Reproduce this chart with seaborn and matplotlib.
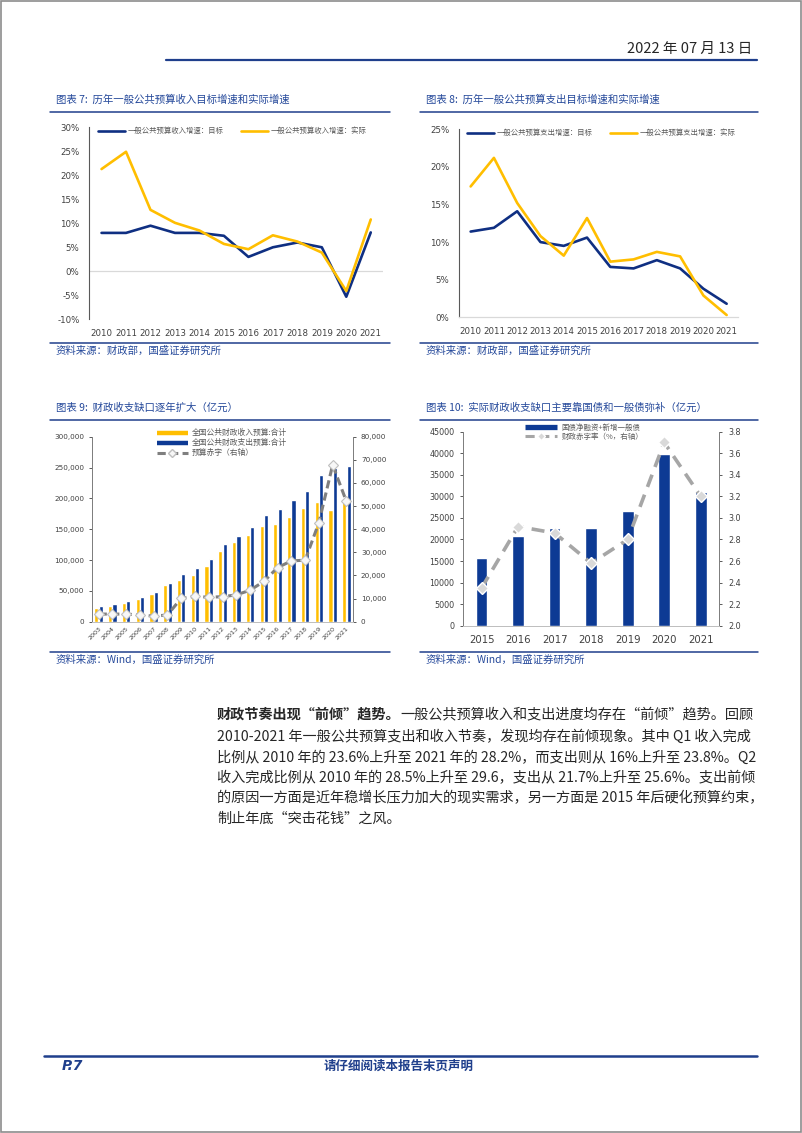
import numpy as np
import pandas as pd
import seaborn as sns
import matplotlib
matplotlib.use('Agg')
import matplotlib.pyplot as plt
from matplotlib.lines import Line2D
from matplotlib.patches import Rectangle
from matplotlib.ticker import FuncFormatter, MultipleLocator

# ---------------- data ----------------
growth_years = ['2010', '2011', '2012', '2013', '2014', '2015',
                '2016', '2017', '2018', '2019', '2020', '2021']
rev_target = [8.0, 8.0, 9.5, 8.0, 8.0, 7.4, 3.0, 5.0, 6.0, 5.0, -5.3, 8.1]
rev_actual = [21.3, 24.9, 12.8, 10.1, 8.5, 5.7, 4.6, 7.5, 6.2, 3.9, -4.1, 10.8]
exp_target = [11.4, 11.9, 14.1, 10.0, 9.5, 10.6, 6.7, 6.5, 7.6, 6.5, 3.8, 1.8]
exp_actual = [17.4, 21.2, 15.2, 10.8, 8.2, 13.2, 7.4, 7.7, 8.7, 8.1, 2.9, 0.3]

budget_years = ['2003', '2004', '2005', '2006', '2007', '2008', '2009', '2010',
                '2011', '2012', '2013', '2014', '2015', '2016', '2017', '2018',
                '2019', '2020', '2021']
rev_budget = [22700, 25400, 30800, 36800, 44900, 59500, 67600, 75100, 90300,
              114600, 128600, 140500, 155700, 159000, 169700, 184900, 194600,
              181000, 196000]
exp_budget = [25400, 28600, 34000, 40000, 47600, 62700, 77300, 86500, 101600,
              126500, 139500, 154000, 173000, 182700, 196800, 211400, 237300,
              249700, 252000]
budget_deficit = [3300, 3300, 3300, 2900, 2400, 2900, 10100, 10900, 10600,
                  10800, 11600, 13600, 17400, 23400, 26300, 26600, 42800,
                  67800, 52000]

debt_years = ['2015', '2016', '2017', '2018', '2019', '2020', '2021']
debt_financing = [15600, 20700, 22700, 22600, 26500, 39800, 31100]
deficit_rate = [2.35, 2.92, 2.86, 2.58, 2.80, 3.70, 3.20]

rev_labels = ['一般公共预算收入增速：目标', '一般公共预算收入增速：实际']
exp_labels = ['一般公共预算支出增速：目标', '一般公共预算支出增速：实际']
budget_labels = ['全国公共财政收入预算:合计', '全国公共财政支出预算:合计', '预算赤字（右轴）']
debt_labels = ['国债净融资+新增一般债', '财政赤字率（%，右轴）']

para_bold = '财政节奏出现“前倾”趋势。'
para_lines = [
    '一般公共预算收入和支出进度均存在“前倾”趋势。回顾',
    '2010-2021 年一般公共预算支出和收入节奏，发现均存在前倾现象。其中 Q1 收入完成',
    '比例从 2010 年的 23.6%上升至 2021 年的 28.2%，而支出则从 16%上升至 23.8%。Q2',
    '收入完成比例从 2010 年的 28.5%上升至 29.6，支出从 21.7%上升至 25.6%。支出前倾',
    '的原因一方面是近年稳增长压力加大的现实需求，另一方面是 2015 年后硬化预算约束，',
    '制止年底“突击花钱”之风。',
]

# ---------------- style ----------------
sns.set_style('white')
CJK = ['Noto Sans CJK SC', 'DejaVu Sans']
plt.rcParams['font.family'] = ['DejaVu Sans', 'Noto Sans CJK SC']
plt.rcParams['axes.unicode_minus'] = False

NAVY = '#0d3a94'
LINE_BLUE = '#0f2f82'
GOLD = '#ffbe00'
TITLE_BLUE = '#24489a'
RULE = '#1f3f8c'
TICK = '#404040'

W, H = 802, 1133
fig = plt.figure(figsize=(W / 100, H / 100), dpi=100)


def rect(x0, y0, x1, y1):
    return [x0 / W, 1 - y1 / H, (x1 - x0) / W, (y1 - y0) / H]


def hline(x0, x1, y, color=RULE, lw=1.1):
    fig.add_artist(Line2D([x0 / W, x1 / W], [1 - y / H, 1 - y / H], color=color, lw=lw))


def ftext(x, y, s, **kw):
    return fig.text(x / W, 1 - y / H, s, **kw)


# page frame, header, footer
fig.add_artist(Rectangle((0.6 / W, 0.6 / H), 1 - 1.2 / W, 1 - 1.2 / H, fill=False,
                         ec='#8c8c8c', lw=1.2))
ftext(752, 49, '2022 年 07 月 13 日', ha='right', va='center', fontsize=10.5, family=CJK)
hline(166, 757, 59.5, lw=1.6)
hline(44, 757, 1056, lw=1.8)
ftext(62, 1066.5, 'P.7', ha='left', va='center', fontsize=10, color=RULE,
      fontweight='bold', style='italic')
ftext(399, 1066.5, '请仔细阅读本报告末页声明', ha='center', va='center', fontsize=9,
      color=RULE, fontweight='bold', family=CJK)

# chart titles, rules and sources
for x0, x1, y_t, title in [(50, 390, 100, '图表 7:  历年一般公共预算收入目标增速和实际增速'),
                           (420, 758, 100, '图表 8:  历年一般公共预算支出目标增速和实际增速'),
                           (50, 390, 408, '图表 9:  财政收支缺口逐年扩大（亿元）'),
                           (420, 758, 408, '图表 10:  实际财政收支缺口主要靠国债和一般债弥补（亿元）')]:
    ftext(x0 + 6, y_t, title, ha='left', va='center', fontsize=7.5, color=TITLE_BLUE,
          style='italic', family=CJK)
    hline(x0, x1, y_t + 12, lw=1.1)
for x0, x1, y_s, src in [(50, 390, 343, '资料来源：财政部，国盛证券研究所'),
                         (420, 758, 343, '资料来源：财政部，国盛证券研究所'),
                         (50, 390, 652, '资料来源：Wind，国盛证券研究所'),
                         (420, 758, 652, '资料来源：Wind，国盛证券研究所')]:
    hline(x0, x1, y_s, lw=1.1)
    ftext(x0 + 6, y_s + 8, src, ha='left', va='center', fontsize=7.5, color=TITLE_BLUE,
          style='italic', family=CJK)


def growth_chart(box, target, actual, labels, ylim, step, zero_line):
    ax = fig.add_axes(rect(*box))
    n = len(growth_years)
    df = pd.DataFrame({'x': list(np.arange(n)) * 2,
                       'value': target + actual,
                       'series': [labels[0]] * n + [labels[1]] * n})
    sns.lineplot(data=df, x='x', y='value', hue='series', palette=[LINE_BLUE, GOLD],
                 linewidth=1.9, ax=ax, legend=False, sort=False)
    if zero_line:
        ax.axhline(0, color='#d9d9d9', lw=0.9, zorder=0)
    ax.set_xlim(-0.5, n - 0.5)
    ax.set_ylim(*ylim)
    ax.yaxis.set_major_locator(MultipleLocator(step))
    ax.yaxis.set_major_formatter(FuncFormatter(lambda v, p: f'{v:.0f}%'))
    ax.set_xticks(np.arange(n))
    ax.set_xticklabels(growth_years)
    ax.set_xlabel('')
    ax.set_ylabel('')
    for s in ['top', 'right']:
        ax.spines[s].set_visible(False)
    ax.spines['left'].set_color('#595959')
    ax.spines['left'].set_linewidth(0.8)
    if zero_line:
        ax.spines['bottom'].set_visible(False)
    else:
        ax.spines['bottom'].set_color('#d9d9d9')
        ax.spines['bottom'].set_linewidth(0.9)
    ax.tick_params(axis='x', length=0, labelsize=6.2, pad=7, colors=TICK)
    ax.tick_params(axis='y', length=0, labelsize=6.2, pad=7, colors=TICK)
    handles = [Line2D([], [], color=LINE_BLUE, lw=1.9), Line2D([], [], color=GOLD, lw=1.9)]
    leg = ax.legend(handles, labels, loc='upper left', bbox_to_anchor=(0.03, 1.0), ncol=2,
                    frameon=False, prop={'family': CJK, 'size': 5.3}, handlelength=3.6,
                    handletextpad=0.4, columnspacing=2.4, borderpad=0, borderaxespad=0)
    for t in leg.get_texts():
        t.set_color('#595959')
    ax.patch.set_alpha(0)
    return ax


growth_chart((89.3, 127.3, 383, 319.3), rev_target, rev_actual, rev_labels, (-10, 30), 5, True)
growth_chart((459, 129.3, 738.3, 317.3), exp_target, exp_actual, exp_labels, (0, 25), 5, False)

# ---------------- chart 9 ----------------
ax9 = fig.add_axes(rect(91.7, 436.7, 353.3, 621.7))
nb = len(budget_years)
df9 = pd.DataFrame({'year': budget_years * 2,
                    'value': rev_budget + exp_budget,
                    'series': [budget_labels[0]] * nb + [budget_labels[1]] * nb})
sns.barplot(data=df9, x='year', y='value', hue='series', palette=[GOLD, NAVY],
            width=0.64, gap=0.06, saturation=1, ax=ax9, legend=False)
ax9.set_xlim(-0.5, nb - 0.5)
ax9.set_ylim(0, 300000)
ax9.yaxis.set_major_locator(MultipleLocator(50000))
ax9.yaxis.set_major_formatter(FuncFormatter(lambda v, p: f'{v:,.0f}'))
ax9.set_xlabel('')
ax9.set_ylabel('')
ax9.set_xticks(np.arange(nb))
ax9.set_xticklabels(budget_years, rotation=45, ha='right', rotation_mode='anchor')
ax9.tick_params(axis='x', length=0, labelsize=4.6, pad=3, colors=TICK)
ax9.tick_params(axis='y', length=2.5, width=0.6, direction='out', labelsize=5.2,
                pad=3, colors=TICK)

ax9b = ax9.twinx()
sns.lineplot(x=np.arange(nb), y=budget_deficit, ax=ax9b, color='#7f7f7f', linewidth=2.2,
             marker='D', markersize=5.5, markerfacecolor='#f7f7f7', markeredgecolor='#bfbfbf',
             markeredgewidth=0.8, legend=False)
ax9b.lines[0].set_dashes([2.7, 1.4])
ax9b.set_ylim(0, 80000)
ax9b.yaxis.set_major_locator(MultipleLocator(10000))
ax9b.yaxis.set_major_formatter(FuncFormatter(lambda v, p: f'{v:,.0f}'))
ax9b.tick_params(axis='y', length=2.5, width=0.6, direction='out', labelsize=5.2,
                 pad=3, colors=TICK)
for a in (ax9, ax9b):
    a.spines['top'].set_visible(False)
    a.spines['left'].set_color('#7f7f7f')
    a.spines['right'].set_color('#7f7f7f')
    a.spines['bottom'].set_color('#bfbfbf')
    for s in ('left', 'right', 'bottom'):
        a.spines[s].set_linewidth(0.7)
h9 = [Line2D([], [], color=GOLD, lw=3.2, solid_capstyle='butt'),
      Line2D([], [], color=NAVY, lw=3.2, solid_capstyle='butt'),
      Line2D([], [], color='#7f7f7f', lw=2.2, ls=(0, (2.7, 1.4)), marker='D', markersize=4,
             markerfacecolor='#f7f7f7', markeredgecolor='#bfbfbf')]
leg9 = ax9b.legend(h9, budget_labels, loc='upper left', bbox_to_anchor=(0.248, 1.04),
                   frameon=False, prop={'family': CJK, 'size': 5.6}, handlelength=4.0,
                   handletextpad=0.5, labelspacing=0.25, borderpad=0, borderaxespad=0)
for t in leg9.get_texts():
    t.set_color('#595959')

# ---------------- chart 10 ----------------
ax10 = fig.add_axes(rect(463.3, 431.7, 719, 625.7))
sns.barplot(x=debt_years, y=debt_financing, color=NAVY, width=0.32, saturation=1, ax=ax10)
nd = len(debt_years)
ax10.set_xlim(-0.5, nd - 0.5)
ax10.set_ylim(0, 45000)
ax10.yaxis.set_major_locator(MultipleLocator(5000))
ax10.yaxis.set_major_formatter(FuncFormatter(lambda v, p: f'{v:.0f}'))
ax10.set_xlabel('')
ax10.set_ylabel('')
ax10.tick_params(axis='x', length=0, labelsize=7.3, pad=7, colors=TICK)
ax10.tick_params(axis='y', length=2.5, width=0.6, direction='out', labelsize=5.8,
                 pad=4, colors=TICK)

ax10b = ax10.twinx()
sns.lineplot(x=np.arange(nd), y=deficit_rate, ax=ax10b, color='#a6a6a6', linewidth=2.6,
             marker='D', markersize=6.5, markerfacecolor='#d9d9d9', markeredgecolor='white',
             markeredgewidth=1.0, legend=False)
ax10b.lines[0].set_dashes([3.6, 2.3])
ax10b.set_ylim(2.0, 3.8)
ax10b.yaxis.set_major_locator(MultipleLocator(0.2))
ax10b.yaxis.set_major_formatter(FuncFormatter(lambda v, p: f'{v:.1f}'))
ax10b.tick_params(axis='y', length=2.5, width=0.6, direction='out', labelsize=5.8,
                  pad=4, colors=TICK)
for a in (ax10, ax10b):
    a.spines['top'].set_visible(False)
    a.spines['left'].set_color('#7f7f7f')
    a.spines['right'].set_color('#7f7f7f')
    a.spines['bottom'].set_color('#bfbfbf')
    for s in ('left', 'right', 'bottom'):
        a.spines[s].set_linewidth(0.7)
h10 = [Line2D([], [], color=NAVY, lw=3.8, solid_capstyle='butt'),
       Line2D([], [], color='#a6a6a6', lw=2.2, ls=(0, (3.0, 1.8)), marker='D', markersize=4.5,
              markerfacecolor='#d9d9d9', markeredgecolor='white')]
leg10 = ax10b.legend(h10, debt_labels, loc='upper left', bbox_to_anchor=(0.241, 1.04),
                     frameon=False, prop={'family': CJK, 'size': 5.4}, handlelength=4.3,
                     handletextpad=0.6, labelspacing=0.15, borderpad=0, borderaxespad=0)
for t in leg10.get_texts():
    t.set_color('#595959')

# ---------------- paragraph ----------------
renderer = fig.canvas.get_renderer()
line_y = [714.6, 736.5, 757.5, 778, 798.6, 819]
tb = ftext(217, line_y[0], para_bold, ha='left', va='center', fontsize=10.2,
           fontweight='bold', family=CJK)
bw = tb.get_window_extent(renderer=renderer).width
ftext(217 + bw, line_y[0], para_lines[0], ha='left', va='center', fontsize=10.2, family=CJK)
for y, s in zip(line_y[1:], para_lines[1:]):
    ftext(217, y, s, ha='left', va='center', fontsize=10.2, family=CJK)

fig.savefig('out.png', dpi=100)
